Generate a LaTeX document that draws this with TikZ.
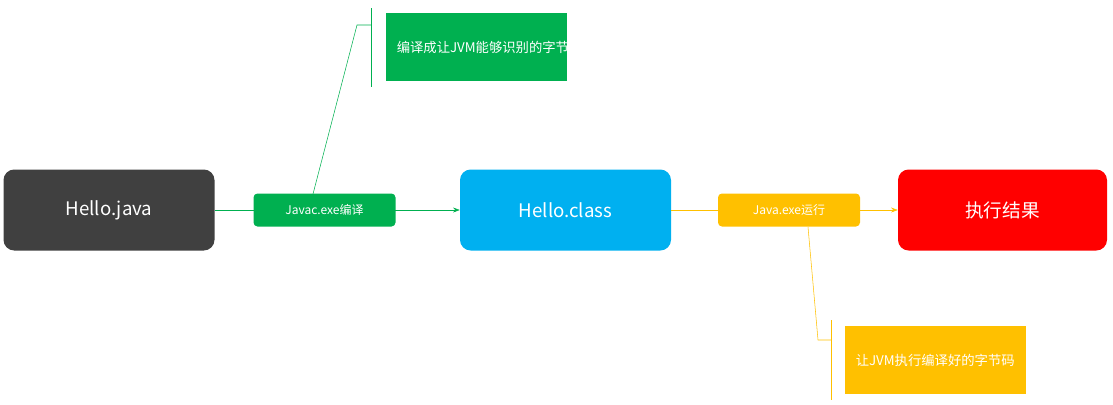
\documentclass[tikz,border=0pt]{standalone}
\usepackage{fontspec}
\setmainfont{Noto Sans CJK SC}
\usetikzlibrary{positioning,arrows.meta}
\definecolor{darkbox}{HTML}{404040}
\definecolor{bluebox}{HTML}{00B0F0}
\definecolor{greenbox}{HTML}{00B050}
\definecolor{goldbox}{HTML}{FFC000}
\definecolor{redbox}{HTML}{FF0000}
\newlength{\px}
\setlength{\px}{0.75pt}
\tikzset{
    stagebox/.style={
        rectangle,
        rounded corners=8pt,
        text=white,
        minimum width=211\px,
        minimum height=81\px,
        font={\fontsize{14pt}{16}\selectfont}
    },
    toolbox/.style={
        rectangle,
        rounded corners=3pt,
        text=white,
        minimum width=142\px,
        minimum height=33\px,
        inner sep=0pt,
        font={\fontsize{9pt}{11}\selectfont}
    },
    notebox/.style={
        rectangle,
        anchor=north west,
        minimum width=181\px,
        minimum height=68\px,
        text width=160\px,
        align=left,
        text=white,
        font={\fontsize{10pt}{17}\selectfont}
    },
    flow/.style={draw, -{Stealth[length=5pt]}},
}
\begin{document}
\begin{tikzpicture}[x=0.75pt, y=-0.75pt]
\useasboundingbox (0,0) rectangle (1113,404);

% stages
\node [stagebox, fill=darkbox] (java) at (109,210) {Hello.java};
\node [stagebox, fill=bluebox] (class) at (565.5,210) {Hello.class};
\node [stagebox, fill=redbox, minimum width=209\px] (result) at (1002.5,210) {执行结果};

% connectors
\draw [flow, greenbox] (java) -- (class);
\draw [flow, goldbox] (class) -- (result);

% tools on the connectors
\node [toolbox, fill=greenbox] (javac) at (324.5,210) {Javac.exe编译};
\node [toolbox, fill=goldbox] (run) at (789,210) {Java.exe运行};

% callouts
\node [notebox, fill=greenbox] (compilenote) at (386,13) {编译成让JVM能够识别的字节码};
\node [notebox, fill=goldbox] (runnote) at (845,326) {让JVM执行编译好的字节码};

\coordinate (bendA) at (357,25);
\coordinate (barA) at (371,25);
\draw [greenbox] (313,194) -- (bendA) -- (barA);
\draw [greenbox] (371,8) -- (371,87);

\coordinate (bendB) at (818,340);
\coordinate (barB) at (831,340);
\draw [goldbox] (808,227) -- (bendB) -- (barB);
\draw [goldbox] (831,320) -- (831,400);
\end{tikzpicture}
\end{document}
